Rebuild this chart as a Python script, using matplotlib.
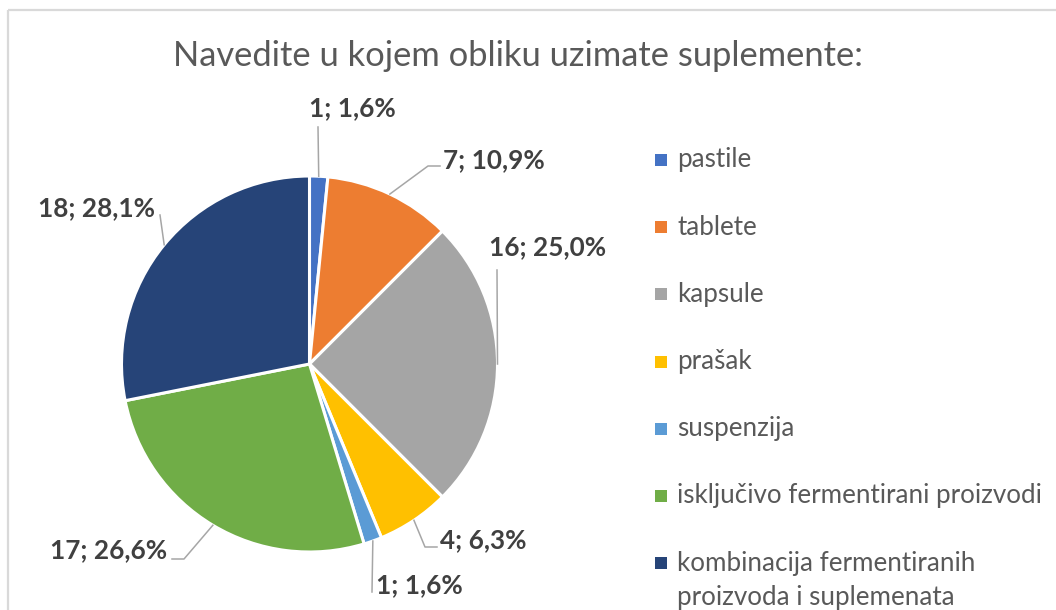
import numpy as np
import matplotlib
matplotlib.use('Agg')
import matplotlib.pyplot as plt

# data
categories = ['pastile', 'tablete', 'kapsule', 'prašak', 'suspenzija',
              'isključivo fermentirani proizvodi',
              'kombinacija fermentiranih\nproizvoda i suplemenata']
counts = [1, 7, 16, 4, 1, 17, 18]
colors = ['#4472C4', '#ED7D31', '#A5A5A5', '#FFC000', '#5B9BD5', '#70AD47', '#264478']
title = 'Navedite u kojem obliku uzimate suplemente:'

# layout (pixel coords, origin top-left)
W, H = 1056, 610
cx, cy, R = 309.5, 364, 188
label_pos = [(352, 108, 'center'), (443, 160, 'left'), (548, 247, 'center'),
             (440, 540, 'left'), (376, 585, 'left'), (167, 550, 'right'),
             (155, 208, 'right')]
leader_pts = [[(318, 127)], [(428, 166), (440, 166)], [(497, 270)],
              [(425, 547), (437, 547)], [(372, 592)], [(184, 559), (172, 559)],
              [(160, 215)]]

plt.rcParams['font.family'] = ['Lato', 'DejaVu Sans']

fig = plt.figure(figsize=(W / 100, H / 100), dpi=100)
ax = fig.add_axes([0, 0, 1, 1])

def Y(y):
    return H - y

ax.pie(counts, colors=colors, center=(cx, Y(cy)), radius=R, startangle=90,
       counterclock=False, wedgeprops=dict(edgecolor='white', linewidth=2.2))

total = sum(counts)
cum = np.cumsum([0] + counts)
for i, n in enumerate(counts):
    mid = (cum[i] + n / 2) / total * 2 * np.pi
    ex, ey = cx + R * np.sin(mid), cy - R * np.cos(mid)
    pts = [(ex, ey)] + leader_pts[i]
    ax.plot([p[0] for p in pts], [Y(p[1]) for p in pts], color='#A6A6A6', lw=1.1)
    # round half up like Excel
    p = np.floor(n / total * 1000 + 0.5) / 10
    pct = f'{p:.1f}'.replace('.', ',')
    lx, ly, ha = label_pos[i]
    ax.text(lx, Y(ly), f'{n}; {pct}%', ha=ha, va='center', fontsize=18.8,
            fontweight='bold', color='#404040')

# legend drawn by hand to match the spacing
for i, lab in enumerate(categories):
    ly = 160 + i * 67.2
    ax.scatter(661, Y(ly), marker='s', s=80, color=colors[i], linewidths=0)
    for k, line in enumerate(lab.split('\n')):
        ax.text(677, Y(ly + k * 34), line, ha='left', va='center', fontsize=18.7,
                color='#595959')

ax.text(518, Y(56), title, ha='center', va='center', fontsize=24.8, color='#595959')

# chart border (only top/left visible in the crop)
ax.plot([7.5, W], [Y(9.5), Y(9.5)], color='#D9D9D9', lw=1.6, solid_capstyle='butt')
ax.plot([7.5, 7.5], [Y(9.5), 0], color='#D9D9D9', lw=1.6, solid_capstyle='butt')

ax.set_xlim(0, W)
ax.set_ylim(0, H)
ax.set_aspect('equal')
ax.axis('off')

fig.savefig('out.png', dpi=100, facecolor='white')
